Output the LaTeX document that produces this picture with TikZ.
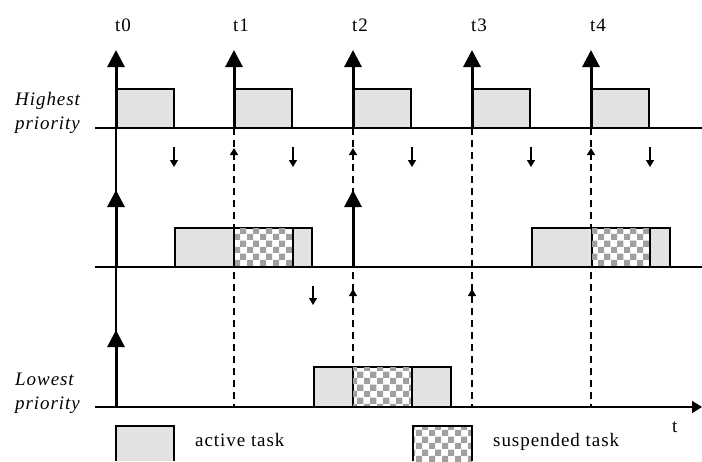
\documentclass[tikz,border=0pt]{standalone}
\usepackage{fontspec}
\setmainfont{Liberation Serif}
\newfontfamily\labfont[LetterSpace=5]{Liberation Serif}
\usetikzlibrary{arrows.meta,patterns}
\definecolor{actgray}{RGB}{226,226,226}
\definecolor{chkgray}{RGB}{160,160,160}
\pgfdeclarepatternformonly{checker}{\pgfpointorigin}{\pgfpoint{13pt}{13pt}}{\pgfpoint{13pt}{13pt}}{%
  \pgfpathrectangle{\pgfpointorigin}{\pgfpoint{6.5pt}{6.5pt}}%
  \pgfpathrectangle{\pgfpoint{6.5pt}{6.5pt}}{\pgfpoint{6.5pt}{6.5pt}}%
  \pgfusepath{fill}}
\tikzset{
  axisline/.style={line width=1.6pt},
  bigarrow/.style={line width=3pt,-{Triangle[width=17pt,length=17pt]}},
  smallarrow/.style={line width=1.4pt,-{Triangle[width=8pt,length=7pt]}},
  dashline/.style={line width=1.2pt,dash pattern=on 7pt off 5pt},
  thinline/.style={line width=1.2pt},
  activebox/.style={fill=actgray,draw=black,line width=1.2pt},
  suspbox/.style={fill=white,draw=black,line width=1.2pt,postaction={pattern=checker,pattern color=chkgray}},
  boxbottom/.style={line width=2.8pt},
  divider/.style={line width=2.6pt},
  txt/.style={font=\labfont\fontsize{19}{22}\selectfont,inner sep=0pt},
  itxt/.style={font=\labfont\itshape\fontsize{19}{22}\selectfont,inner sep=0pt,anchor=base west}
}
\begin{document}
\begin{tikzpicture}[x=1pt,y=-1pt]
\useasboundingbox (0,0) rectangle (702,461);
% time coordinates
\foreach \n/\x in {0/116,1/234,2/353,3/472,4/591}{
  \coordinate (r1b\n) at (\x,128);
  \coordinate (r1t\n) at (\x,50);
  \coordinate (r3b\n) at (\x,407);
}
% axes
\coordinate (ax1l) at (95,128); \coordinate (ax1r) at (702,128);
\coordinate (ax2l) at (95,267); \coordinate (ax2r) at (702,267);
\coordinate (ax3l) at (95,407); \coordinate (ax3r) at (702,407);

% dashed / thin verticals
\draw[thinline] (r1b0) -- (r3b0);
\foreach \n in {1,2,3,4}{ \draw[dashline] (r1b\n) -- (r3b\n); }

% row 1 boxes
\foreach \x in {116,234,353,472,591}{
  \draw[activebox] (\x,89) rectangle (\x+58,128);
  \draw[boxbottom] (\x,128) -- (\x+58,128);
}
% row 2 boxes
\draw[activebox] (175,228) rectangle (234,267);
\draw[suspbox] (234,228) rectangle (293,267);
\draw[activebox] (293,228) rectangle (312,267);
\draw[divider] (234,228) -- (234,267);
\draw[divider] (293,228) -- (293,267);
\draw[boxbottom] (175,267) -- (312,267);
\draw[activebox] (532,228) rectangle (592,267);
\draw[suspbox] (592,228) rectangle (650,267);
\draw[activebox] (650,228) rectangle (670,267);
\draw[boxbottom] (532,267) -- (670,267);
% row 3 boxes
\draw[activebox] (314,367) rectangle (353,407);
\draw[suspbox] (353,367) rectangle (412,407);
\draw[activebox] (412,367) rectangle (451,407);
\draw[boxbottom] (314,407) -- (451,407);

% axes lines
\draw[axisline] (ax1l) -- (ax1r);
\draw[axisline] (ax2l) -- (ax2r);
\draw[axisline,-{Triangle[width=12pt,length=10pt]}] (ax3l) -- (ax3r);

% big arrows row 1
\foreach \n in {0,1,2,3,4}{ \draw[bigarrow] (r1b\n) -- (r1t\n); }
% row 2 arrows
\coordinate (r2b0) at (116,267); \coordinate (r2t0) at (116,190);
\coordinate (r2b2) at (353,267); \coordinate (r2t2) at (353,190);
\draw[bigarrow] (r2b0) -- (r2t0);
\draw[bigarrow] (r2b2) -- (r2t2);
% row 3 arrow
\coordinate (r3t0) at (116,330);
\draw[bigarrow] (r3b0) -- (r3t0);

% small arrows below row 1
\foreach \i/\x in {a/174,b/293,c/412,d/531,e/650}{
  \coordinate (d1s\i) at (\x,147); \coordinate (d1e\i) at (\x,167);
  \draw[smallarrow] (d1s\i) -- (d1e\i);
}
\foreach \i/\x in {a/234,b/353,c/591}{
  \coordinate (u1s\i) at (\x,160); \coordinate (u1e\i) at (\x,148);
  \draw[smallarrow] (u1s\i) -- (u1e\i);
}
% small arrows below row 2
\coordinate (d2s) at (313,286); \coordinate (d2e) at (313,305);
\draw[smallarrow] (d2s) -- (d2e);
\foreach \i/\x in {a/353,b/472}{
  \coordinate (u2s\i) at (\x,300); \coordinate (u2e\i) at (\x,289);
  \draw[smallarrow] (u2s\i) -- (u2e\i);
}

% time labels
\foreach \n/\x in {0/116,1/234,2/353,3/472,4/591}{
  \node[txt,anchor=base west] (lab\n) at (\x-1,31) {t\n};
}
\node[itxt] (hi1) at (15,105) {Highest};
\node[itxt] (hi2) at (15,129) {priority};
\node[itxt] (lo1) at (15,385) {Lowest};
\node[itxt] (lo2) at (15,409) {priority};
\node[txt,anchor=base west] (tlab) at (672,432) {t};

% legend
\fill[actgray] (116,426) rectangle (174,461);
\draw[thinline] (116,461) -- (116,426) -- (174,426) -- (174,461);
\node[txt,anchor=base west] (lact) at (195,446) {active task};
\fill[white] (413,426) rectangle (472,461);
\path[pattern=checker,pattern color=chkgray] (413,426) rectangle (472,461);
\draw[thinline] (413,461) -- (413,426) -- (472,426) -- (472,461);
\node[txt,anchor=base west] (lsus) at (493,446) {suspended task};
\end{tikzpicture}
\end{document}
